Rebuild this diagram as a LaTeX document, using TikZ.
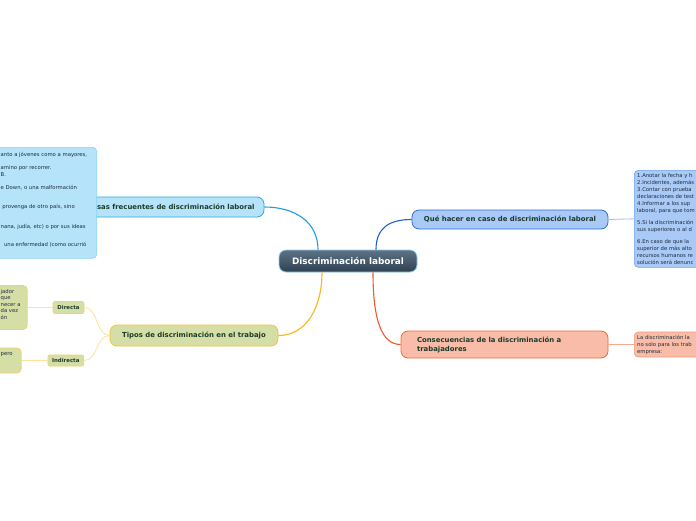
\documentclass[tikz,border=0pt]{standalone}
\usepackage{fontspec}
\setmainfont{DejaVu Sans}
\usepackage{tikz}
\usetikzlibrary{positioning, calc}
\definecolor{centertop}{HTML}{5E7386}
\definecolor{centerbot}{HTML}{2E4152}
\definecolor{centerrim}{HTML}{8CCBEA}
\definecolor{titletext}{HTML}{1C3A2C}
\definecolor{notetext}{HTML}{1E2B3A}
\definecolor{causafill}{HTML}{B5E4FA}
\definecolor{causarim}{HTML}{2EA7E0}
\definecolor{causanote}{HTML}{8DD3F5}
\definecolor{causaline}{HTML}{1E9EE0}
\definecolor{tipofill}{HTML}{D5DFA5}
\definecolor{tiporim}{HTML}{F8C233}
\definecolor{tipoline}{HTML}{F9B915}
\definecolor{subrim}{HTML}{F3D165}
\definecolor{subline}{HTML}{FDE39A}
\definecolor{quefill}{HTML}{A9C9F7}
\definecolor{querim}{HTML}{2D6ED8}
\definecolor{queline}{HTML}{1A5FD6}
\definecolor{quenote}{HTML}{6EA3EE}
\definecolor{quenoteline}{HTML}{9DC0F0}
\definecolor{consfill}{HTML}{F8BCA8}
\definecolor{consrim}{HTML}{EF6A3A}
\definecolor{consline}{HTML}{EF5A2C}
\definecolor{consnote}{HTML}{F29A7A}
\definecolor{consnoteline}{HTML}{F5A98F}

\begin{document}
\begin{tikzpicture}[
    x=1pt, y=-1pt,
    central/.style={rectangle, rounded corners=7pt, draw=centerrim, line width=0.8pt,
        top color=centertop, bottom color=centerbot, text=white, inner sep=0pt,
        minimum width=138pt, minimum height=22pt, font=\bfseries\fontsize{8.9}{10}\selectfont},
    topic/.style={rectangle, rounded corners=7pt, line width=0.8pt, text=titletext,
        inner sep=0pt, font=\bfseries\fontsize{6.9}{9}\selectfont},
    subtopic/.style={rectangle, rounded corners=2pt, line width=0.6pt, text=titletext,
        inner sep=0pt, font=\bfseries\fontsize{5.4}{6}\selectfont},
    notebox/.style={rectangle, rounded corners=4pt, line width=0.6pt, inner sep=0pt},
    notetext/.style={align=left, inner sep=0pt, text=notetext, font=\fontsize{5.3}{7}\selectfont},
    branch/.style={line width=1.1pt},
    twig/.style={line width=0.8pt}
]

\useasboundingbox (0,0) rectangle (696,520);
\fill[white] (0,0) rectangle (696,520);
\clip (0,0) rectangle (696,520);

% Central topic
\node[central] (disc) at (348,261) {Discriminación laboral};

% Causas
\node[topic, fill=causafill, draw=causarim, minimum width=191pt, minimum height=20pt] (causas) at (168.5,207) {Causas frecuentes de discriminación laboral};
\node[notebox, fill=causafill, draw=causanote, minimum width=160pt, minimum height=111pt, anchor=north east] (causaslist) at (97,147) {};
\node[notetext, anchor=north west] (causastxt) at (0.5,152.5) {anto a jóvenes como a mayores,\\[6pt]
amino por recorrer.\\
B.\\[6pt]
e Down, o una malformación\\[12pt]
\ provenga de otro país, sino\\[13pt]
nana, judía, etc) o por sus ideas\\[11pt]
\ \ una enfermedad (como ocurrió};

% Tipos
\node[topic, fill=tipofill, draw=tiporim, minimum width=168pt, minimum height=21pt] (tipos) at (194,335.5) {Tipos de discriminación en el trabajo};
\node[subtopic, fill=tipofill, draw=subrim, minimum width=31pt, minimum height=12pt] (directa) at (68.5,307.5) {Directa};
\node[subtopic, fill=tipofill, draw=subrim, minimum width=36pt, minimum height=11pt] (indirecta) at (65.8,360.5) {Indirecta};
\node[notebox, fill=tipofill, draw=subrim, minimum width=70pt, minimum height=44pt, anchor=east] (directanote) at (27.5,307.5) {};
\node[notetext, anchor=north west, font=\fontsize{5.3}{6.5}\selectfont] (directatxt) at (0.5,289.2) {jador\\que\\necer a\\da vez\\ón};
\node[notebox, fill=tipofill, draw=subrim, minimum width=60pt, minimum height=25pt, anchor=east] (indirectanote) at (21.5,360.5) {};
\node[notetext, anchor=north west] (indirectatxt) at (0.5,352.5) {pero};

% Que hacer
\node[topic, fill=quefill, draw=querim, minimum width=196pt, minimum height=19pt] (que) at (510,219.5) {Qué hacer en caso de discriminación laboral};
\node[notebox, fill=quefill, draw=quenote, minimum width=90pt, minimum height=97pt, anchor=north west] (quelist) at (634,170) {};
\node[notetext, anchor=north west] (quetxt) at (637,173.5) {1.Anotar la fecha y h\\
2.Incidentes, además\\
3.Contar con prueba\\
declaraciones de test\\
4.Informar a los sup\\
laboral, para que tom\\[5pt]
5.Si la discriminación\\
sus superiores o al d\\[5pt]
6.En caso de que la\\
superior de más alto\\
recursos humanos re\\
solución será denunc};

% Consecuencias
\node[topic, fill=consfill, draw=consrim, minimum width=207pt, minimum height=27pt, text width=175pt, align=left, inner xsep=16pt] (cons) at (504.5,344.5) {Consecuencias de la discriminación a\\trabajadores};
\node[notebox, fill=consfill, draw=consnote, minimum width=80pt, minimum height=25pt, anchor=west] (consnote) at (634,344.5) {};
\node[notetext, anchor=north west] (constxt) at (637,335.5) {La discriminación la\\no solo para los trab\\empresa:};

% Branches
\draw[branch, causaline] ($(disc.north)+(-30,0)$) .. controls +(0,-28) and +(30,0) .. (causas.east);
\draw[branch, tipoline] ($(disc.south)+(-26,0)$) .. controls +(0,35) and +(28,0) .. (tipos.east);
\draw[branch, queline] ($(disc.north)+(28,0)$) .. controls +(0,-22) and +(-22,0) .. (que.west);
\draw[branch, consline] ($(disc.south)+(25,0)$) .. controls +(0,45) and +(-20,0) .. (cons.west);

% Twigs
\draw[twig, subline] (tipos.west) .. controls +(-14,0) and +(14,0) .. (directa.east);
\draw[twig, subline] (tipos.west) .. controls +(-14,0) and +(14,0) .. (indirecta.east);
\draw[twig, subline] (directa.west) -- (directanote.east);
\draw[twig, subline] (indirecta.west) -- (indirectanote.east);
\draw[twig, quenoteline] (que.east) -- (quelist.west);
\draw[twig, consnoteline] (cons.east) -- (consnote.west);

\end{tikzpicture}
\end{document}
